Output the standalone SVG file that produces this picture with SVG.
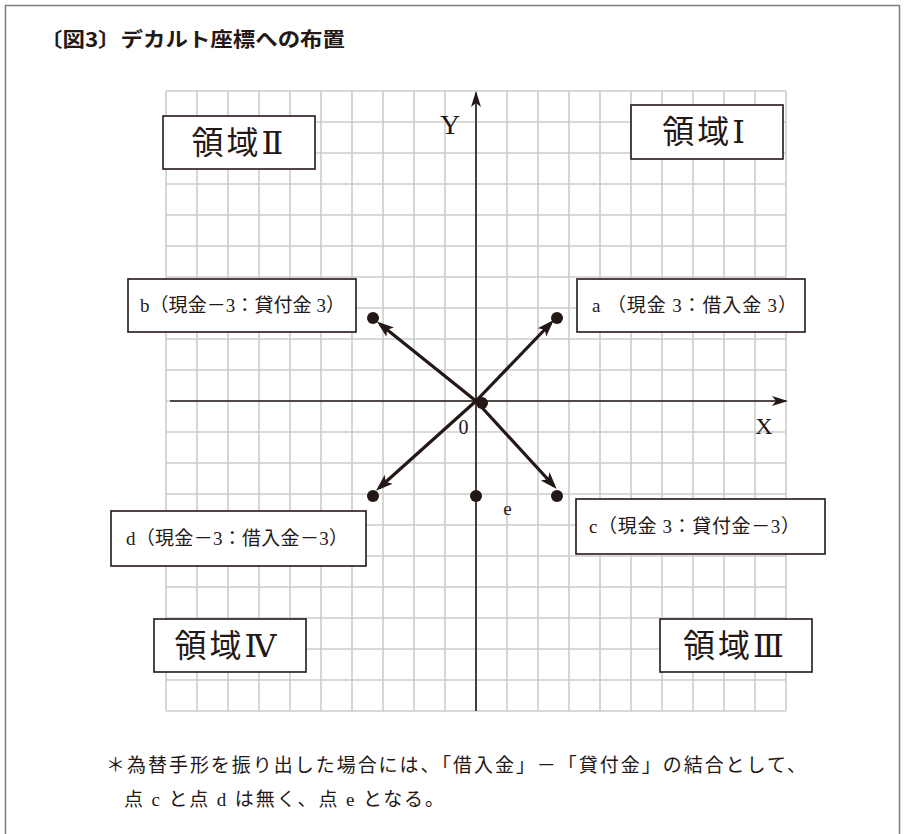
<svg xmlns="http://www.w3.org/2000/svg" width="906" height="834" viewBox="0 0 906 834">
<style>
.grid{fill:none;stroke:#cdcdcd;stroke-width:1.6}
.axis{fill:none;stroke:#231815;stroke-width:1.6}
.arr{fill:none;stroke:#231815;stroke-width:3.2}
.dot{fill:#231815}
.box{fill:#fff;stroke:#231815;stroke-width:1.6}
.lbl{font-family:"Liberation Serif","Noto Sans CJK JP",serif;font-size:19px;fill:#231815}
.reg{font-family:"Liberation Serif","DejaVu Serif","Noto Sans CJK JP",serif;font-size:32px;fill:#231815;text-anchor:middle;letter-spacing:3px}
.ax{font-family:"Liberation Serif",serif;fill:#231815;text-anchor:middle}
.note{font-family:"Liberation Serif","Noto Sans CJK JP",serif;font-size:19px;fill:#231815}
</style>
<defs>
<marker id="ah" markerUnits="userSpaceOnUse" markerWidth="18" markerHeight="14" viewBox="0 0 18 14" refX="13" refY="7" orient="auto">
<path d="M0,1 L17,7 L0,13 L4,7 Z" fill="#231815"/>
</marker>
<marker id="axh" markerUnits="userSpaceOnUse" markerWidth="16" markerHeight="12" viewBox="0 0 16 12" refX="14" refY="6" orient="auto">
<path d="M0,1 L16,6 L0,11 L4,6 Z" fill="#231815"/>
</marker>
</defs>
<rect x="0" y="0" width="906" height="834" fill="#fff"/>
<path d="M5.5,834 V5.5 H899.5 V834" fill="none" stroke="#7d7d7d" stroke-width="1.5"/>
<text x="40" y="47" font-family="'Noto Sans CJK JP',sans-serif" font-weight="bold" font-size="20" fill="#231815" textLength="305" lengthAdjust="spacingAndGlyphs">〔図3〕デカルト座標への布置</text>
<g id="grid">
<path class="grid" d="M166 91V711M197 91V711M228 91V711M259 91V711M290 91V711M321 91V711M352 91V711M383 91V711M414 91V711M445 91V711M476 91V711M507 91V711M538 91V711M569 91V711M600 91V711M631 91V711M662 91V711M693 91V711M724 91V711M755 91V711M786 91V711M166 91H786M166 122H786M166 153H786M166 184H786M166 215H786M166 246H786M166 277H786M166 308H786M166 339H786M166 370H786M166 401H786M166 432H786M166 463H786M166 494H786M166 525H786M166 556H786M166 587H786M166 618H786M166 649H786M166 680H786M166 711H786"/>
</g>
<g id="connectors">
<line id="x-axis" class="axis" x1="170" y1="401" x2="786" y2="401" marker-end="url(#axh)"/>
<line id="y-axis" class="axis" x1="476" y1="711" x2="476" y2="93" marker-end="url(#axh)"/>
<line id="arrow-a" class="arr" x1="476" y1="401" x2="551" y2="323" marker-end="url(#ah)"/>
<line id="arrow-b" class="arr" x1="476" y1="401" x2="380" y2="324" marker-end="url(#ah)"/>
<line id="arrow-c" class="arr" x1="476" y1="401" x2="554" y2="486" marker-end="url(#ah)"/>
<line id="arrow-d" class="arr" x1="476" y1="401" x2="379" y2="488" marker-end="url(#ah)"/>
</g>
<g id="points">
<circle class="dot" cx="482" cy="403" r="6"/>
<circle class="dot" cx="557" cy="318" r="6"/>
<circle class="dot" cx="373" cy="318" r="6"/>
<circle class="dot" cx="557" cy="496" r="6"/>
<circle class="dot" cx="373" cy="496" r="6"/>
<circle class="dot" cx="476" cy="496" r="6"/>
</g>
<g id="axis-labels">
<text class="ax" x="450" y="134" font-size="28">Y</text>
<text class="ax" x="764" y="434" font-size="24">X</text>
<text class="ax" x="463.5" y="434" font-size="20">0</text>
<text class="ax" x="507.5" y="515" font-size="19">e</text>
</g>
<g id="region-2"><rect class="box" x="163" y="116" width="152" height="53"/><text class="reg" x="239" y="154">領域Ⅱ</text></g>
<g id="region-1"><rect class="box" x="631" y="105" width="152" height="54"/><text class="reg" x="705" y="143">領域Ⅰ</text></g>
<g id="region-4"><rect class="box" x="154" y="619" width="152" height="53"/><text class="reg" x="227" y="657">領域Ⅳ</text></g>
<g id="region-3"><rect class="box" x="660" y="619" width="152" height="53"/><text class="reg" x="735" y="657">領域Ⅲ</text></g>
<g id="label-b"><rect class="box" x="128" y="279" width="228" height="53"/><text class="lbl" x="140" y="312" textLength="205">b（現金－3：貸付金 3）</text></g>
<g id="label-a"><rect class="box" x="577" y="279" width="228" height="53"/><text class="lbl" x="592" y="312" textLength="205">a （現金 3：借入金 3）</text></g>
<g id="label-d"><rect class="box" x="111" y="511" width="255" height="55"/><text class="lbl" x="126" y="545" textLength="222">d（現金－3：借入金－3）</text></g>
<g id="label-c"><rect class="box" x="576" y="499" width="249" height="55"/><text class="lbl" x="589" y="533" textLength="211">c（現金 3：貸付金－3）</text></g>
<g id="footnote">
<text class="note" x="106" y="772" textLength="700">＊為替手形を振り出した場合には、「借入金」－「貸付金」の結合として、</text>
<text class="note" x="124" y="806" textLength="320">点 c と点 d は無く、点 e となる。</text>
</g>
</svg>
